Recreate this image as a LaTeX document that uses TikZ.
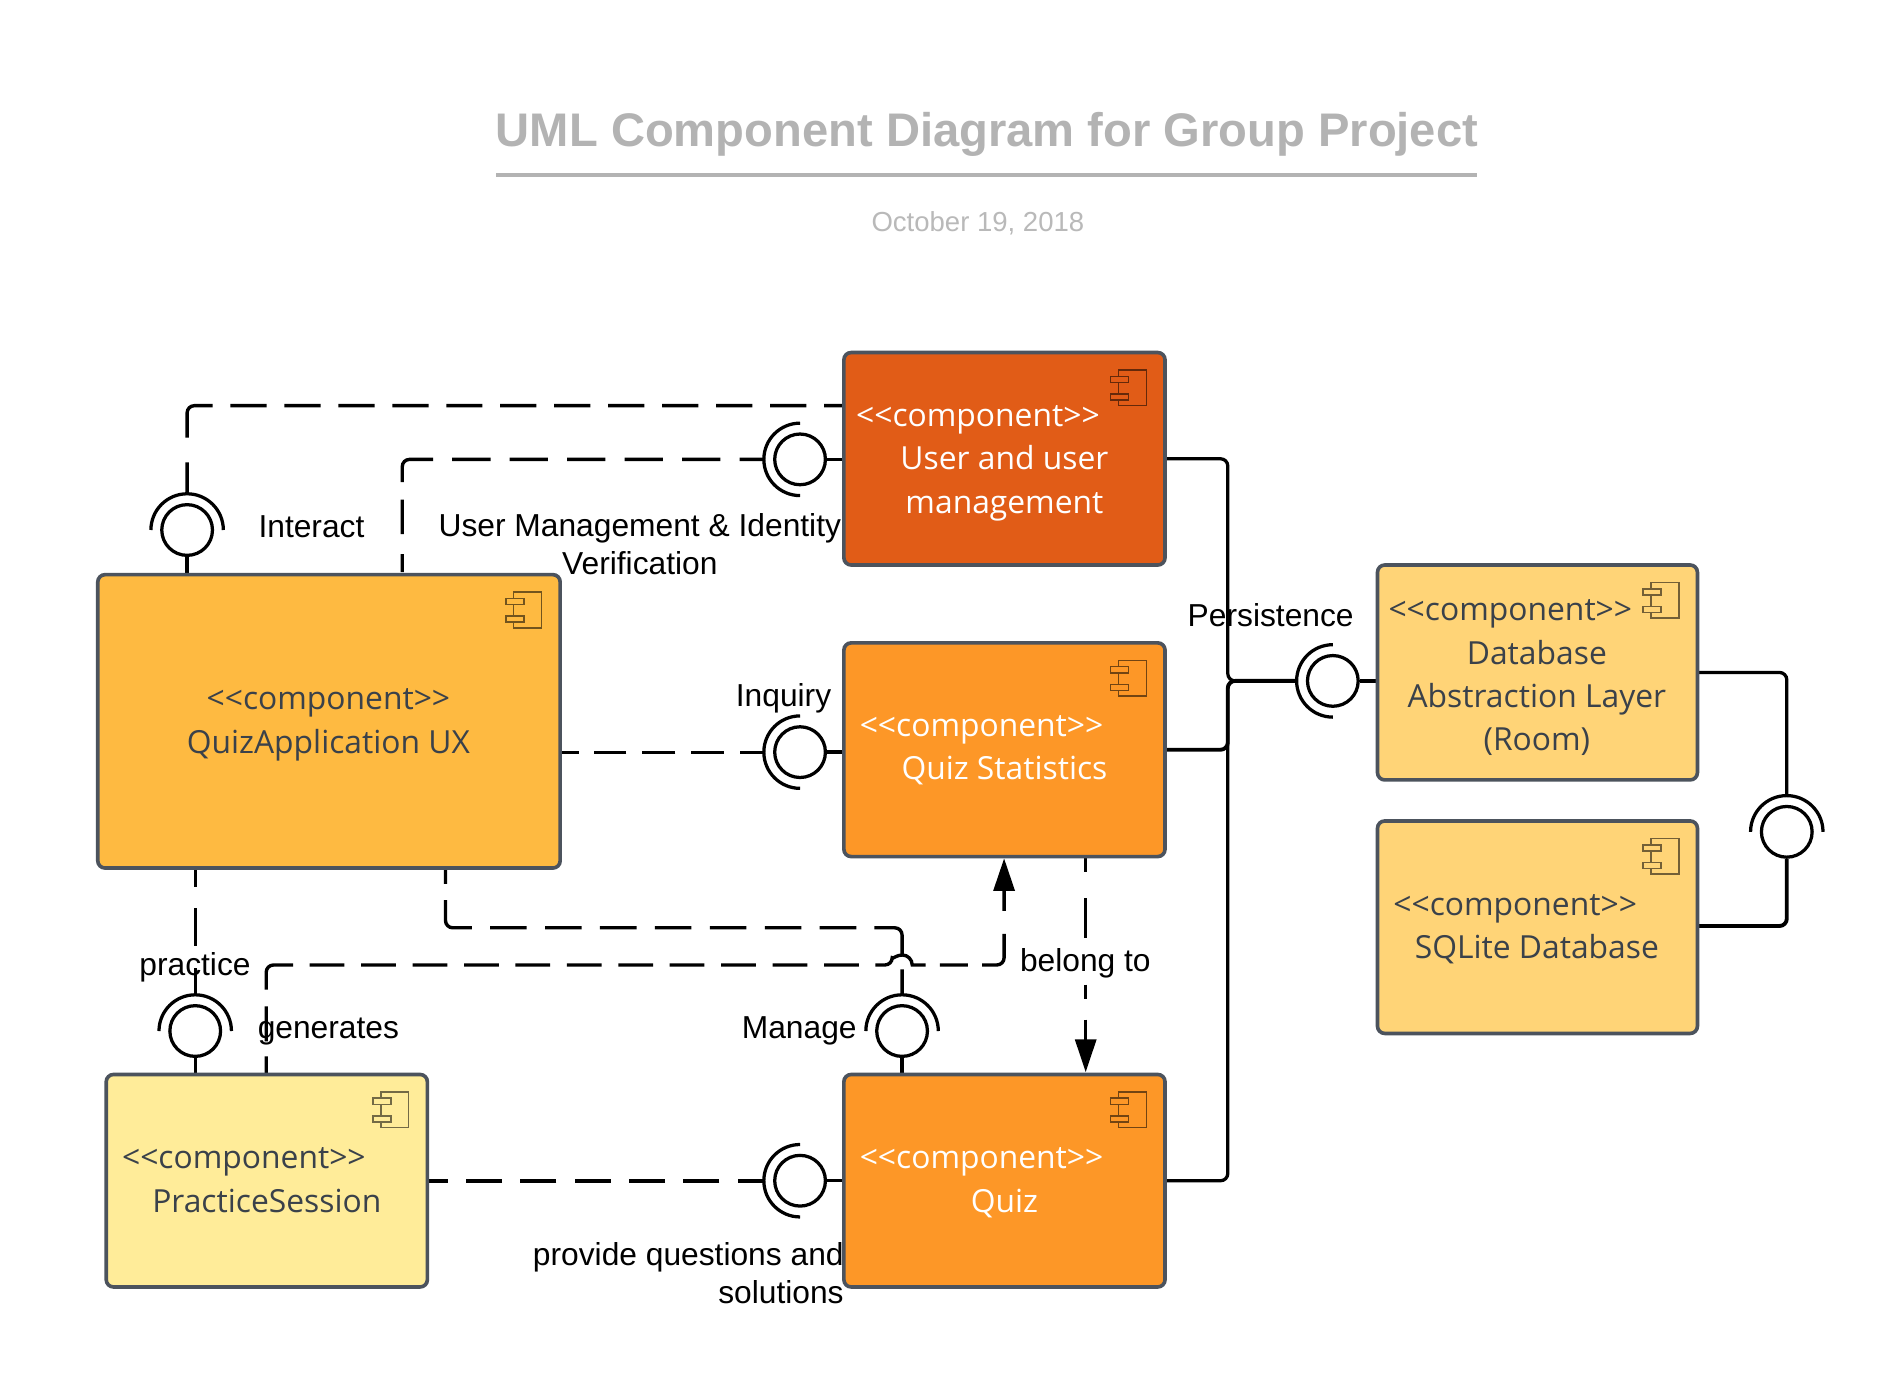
\documentclass[tikz,border=0pt]{standalone}
\usepackage{fontspec}
\setmainfont{Liberation Sans}
\newfontfamily\ofont{Open Sans}
\usetikzlibrary{arrows.meta,calc}
\definecolor{cuser}{HTML}{E15C17}
\definecolor{cstat}{HTML}{FD9727}
\definecolor{cux}{HTML}{FEBA41}
\definecolor{cprac}{HTML}{FFEC99}
\definecolor{cdb}{HTML}{FFD477}
\definecolor{cedge}{HTML}{4C535D}
\definecolor{ctxt}{HTML}{3A414A}
\definecolor{ctitle}{HTML}{B3B3B3}
\tikzset{
  comp/.style={draw=cedge,line width=3pt,rounded corners=6pt,inner sep=0pt,fill=#1},
  sol/.style={line width=2.7pt,rounded corners=6pt,black},
  dsh/.style={line width=2.8pt,rounded corners=6pt,black},
  ifc/.style={draw=black,line width=2.7pt,circle,minimum size=42pt,inner sep=0pt,fill=white},
  ifarc/.style={black,line width=2.7pt},
  lbl/.style={anchor=base,inner sep=0pt,font=\fontsize{26.3}{30}\selectfont,text=black},
  ctx/.style={anchor=base,inner sep=0pt,font=\ofont\fontsize{26.35}{30}\selectfont},
  tip/.style={-{Triangle[length=27pt,width=17.4pt]}},
}
\newcommand{\compbox}[6]{%
  \node[comp=#6,minimum width=#4pt,minimum height=#5pt] (#1) at (#2,#3) {};
  \coordinate (#1-i) at ($(#1.north east)+(-17,-16)$);
  \draw[draw=#6!45!black,line width=1.3pt] ($(#1-i)+(-23,0)$) rectangle ($(#1-i)+(0,-29.5)$);
  \draw[draw=#6!45!black,fill=#6,line width=1.3pt] ($(#1-i)+(-29.5,-5.2)$) rectangle ($(#1-i)+(-14.6,-10.3)$);
  \draw[draw=#6!45!black,fill=#6,line width=1.3pt] ($(#1-i)+(-29.5,-19.8)$) rectangle ($(#1-i)+(-14.6,-24.8)$);
}
\newcommand{\iface}[4]{%
  \node[ifc] (#1) at (#2,#3) {};
  \coordinate (#1-a) at ($(#1)+(#4:30)$);
  \draw[ifarc] (#1) ++(#4+90:30) arc[start angle=#4+90,delta angle=-180,radius=30];
}
\begin{document}
\begin{tikzpicture}[x=1pt,y=1pt]
\useasboundingbox (0,0) rectangle (1568,-1149);
\fill[white] (0,0) rectangle (1568,-1149);
% title
\node[anchor=base,inner sep=0pt,text=ctitle,font=\bfseries\fontsize{39.05}{44}\selectfont] (title) at (817.5,-121) {UML Component Diagram for Group Project};
\coordinate (tl) at (411,-145);
\coordinate (tr) at (1223,-145);
\draw[ctitle,line width=3pt] (tl) -- (tr);
\node[anchor=base,inner sep=0pt,text=ctitle!92,font=\fontsize{22.8}{26}\selectfont] (date) at (810,-192) {October 19, 2018};
% interfaces
\iface{ifint}{155}{-439}{90}
\iface{ifuser}{662.7}{-380.5}{180}
\iface{ifinq}{662.7}{-623}{180}
\iface{ifquiz}{662.7}{-978}{180}
\iface{ifper}{1104}{-564}{180}
\iface{ifdb}{1480}{-689}{90}
\iface{ifprac}{161.7}{-854}{90}
\iface{ifman}{747.2}{-854}{90}
% junction points
\coordinate (utop) at (699,-336);
\coordinate (uxa) at (333.2,-476);
\coordinate (uxb) at (369,-719);
\coordinate (uxc) at (161.7,-719);
\coordinate (prg) at (220.5,-890);
\coordinate (stb) at (831.7,-711);
\coordinate (stc) at (899.3,-709);
\coordinate (qtb) at (899.3,-888);
\coordinate (h1) at (739,-799.3);
\coordinate (h3) at (831.7,-799.3);
\coordinate (j) at (1017,-564);
% dashed connectors
\draw[dsh,dash pattern=on 26pt off 20.5pt on 45pt off 14.7pt on 30pt off 14.7pt on 30pt off 14.7pt on 30pt off 14.7pt on 30pt off 14.7pt on 30pt off 14.7pt on 30pt off 14.7pt on 30pt off 14.7pt on 30pt off 14.7pt on 30pt off 14.7pt on 30pt off 14.7pt on 30pt off 14.7pt on 20pt off 10pt] (ifint-a) |- (utop);
\draw[dsh,dash pattern=on 20pt off 16pt on 31.7pt off 15.9pt on 31.7pt off 15.9pt on 31.7pt off 15.9pt on 31.7pt off 15.9pt on 31.7pt off 15.9pt on 41.7pt off 14.6pt on 28.5pt off 16.5pt on 15pt off 5pt] (ifuser-a) -| (uxa);
\draw[dsh,line width=2.3pt,dash pattern=on 20pt off 13.2pt on 26.8pt off 13.3pt on 27.6pt off 12.9pt on 26.6pt off 13pt on 20pt off 5pt] (ifinq-a) -- (ifinq-a -| 465,0);
\draw[dsh,line width=3.3pt,dash pattern=on 21.6pt off 15.2pt on 29.9pt off 15.1pt on 29.9pt off 15.1pt on 29.9pt off 15.1pt on 29.9pt off 15.1pt on 29.9pt off 15.1pt on 16pt off 5pt] (ifquiz-a) -- (ifquiz-a -| 354,0);
\draw[dsh,line width=2.3pt,dash pattern=on 22pt off 18.6pt on 31.4pt off 17.4pt on 17pt off 5pt] (ifprac-a) -- (uxc);
\draw[dsh,dash pattern=on 21pt off 12.4pt on 42.4pt off 15pt on 30.3pt off 15.2pt on 30.3pt off 15.2pt on 30.3pt off 15.2pt on 30.3pt off 15.2pt on 30.3pt off 15.2pt on 30.3pt off 15.2pt on 30.3pt off 15.2pt on 42pt off 13.5pt on 20pt off 5pt] (ifman-a) |- (369,-768.5) -- (uxb);
\draw[dsh,tip,dash pattern=on 15pt off 12.5pt on 29pt off 13.8pt on 40pt off 13.8pt on 28.8pt off 13.8pt on 28.8pt off 13.8pt on 28.8pt off 13.8pt on 28.8pt off 13.8pt on 28.8pt off 13.8pt on 28.8pt off 13.8pt on 28.8pt off 13.8pt on 28.8pt off 13.8pt on 28.8pt off 13.8pt on 28.8pt off 13.8pt on 28.8pt off 13.8pt on 50pt off 11.8pt on 23.2pt off 11.9pt on 41.3pt off 19pt on 60pt off 5pt] (prg) |- (h1) [sharp corners] arc[start angle=180,end angle=0,radius=8.3] [rounded corners=6pt] -- (h3) -- (stb);
\draw[dsh,tip,line width=2.4pt,dash pattern=on 13pt off 22pt on 33pt off 38.5pt on 12pt off 17pt on 50pt off 5pt] (stc) -- (qtb);
% solid connectors
\draw[sol] (ifint) -- (ifint |- 0,-476);
\draw[sol] (ifuser.east) -- (699,-380.5);
\draw[sol,line width=3.2pt] (ifinq.east) -- (699,-623);
\draw[sol] (ifquiz.east) -- (699,-978);
\draw[sol] (ifper.east) -- (1141,-564);
\draw[sol] (ifprac.south) -- (161.7,-890);
\draw[sol] (ifman.south) -- (747.2,-890);
\draw[sol] (965,-380) -| (j) -- (ifper-a);
\draw[sol,line width=3.2pt] (965,-621) -| (j) -- (ifper-a);
\draw[sol] (965,-978) -| (j) -- (ifper-a);
\draw[sol] (1406,-557) -| (ifdb-a);
\draw[sol,line width=3.2pt] (1406,-767) -| (ifdb.south);
% components
\compbox{user}{832}{-380}{266}{176}{cuser}
\compbox{stats}{832}{-621}{266}{177}{cstat}
\compbox{quiz}{832}{-978}{266}{176}{cstat}
\compbox{ux}{272.5}{-597.5}{383}{243}{cux}
\compbox{prac}{221}{-978}{266}{176}{cprac}
\compbox{db}{1273.5}{-557}{265}{178}{cdb}
\compbox{sql}{1273.5}{-768}{265}{176}{cdb}
% component text
\node[ctx,text=white] (t1a) at (810,-353) {<<component>>};
\node[ctx,text=white] (t1b) at (832,-389) {User and user};
\node[ctx,text=white] (t1c) at (832,-425) {management};
\node[ctx,text=white] (t2a) at (813,-610) {<<component>>};
\node[ctx,text=white] (t2b) at (832,-646) {Quiz Statistics};
\node[ctx,text=white] (t3a) at (813,-968) {<<component>>};
\node[ctx,text=white] (t3b) at (832,-1004) {Quiz};
\node[ctx,text=ctxt] (t4a) at (272,-588) {<<component>>};
\node[ctx,text=ctxt] (t4b) at (272,-624) {QuizApplication UX};
\node[ctx,text=ctxt] (t5a) at (202,-968) {<<component>>};
\node[ctx,text=ctxt] (t5b) at (221,-1004) {PracticeSession};
\node[ctx,text=ctxt] (t6a) at (1251,-514) {<<component>>};
\node[ctx,text=ctxt] (t6b) at (1273,-550) {Database};
\node[ctx,text=ctxt] (t6c) at (1273,-586) {Abstraction Layer};
\node[ctx,text=ctxt] (t6d) at (1273,-622) {(Room)};
\node[ctx,text=ctxt] (t7a) at (1255,-758) {<<component>>};
\node[ctx,text=ctxt] (t7b) at (1273,-794) {SQLite Database};
% labels
\node[lbl] (l1) at (258,-445) {Interact};
\node[lbl] (l2) at (530,-444) {User Management \& Identity};
\node[lbl] (l3) at (530,-476) {Verification};
\node[lbl] (l4) at (649,-585) {Inquiry};
\node[lbl] (l5) at (1052.5,-519) {Persistence};
\node[lbl] (l6) at (161.5,-808) {practice};
\node[lbl] (l7) at (272,-860) {generates};
\node[lbl] (l8) at (662,-860) {Manage};
\node[lbl] (l9) at (899,-805) {belong to};
\node[lbl,anchor=base east] (l10) at (699,-1048) {provide questions and};
\node[lbl,anchor=base east] (l11) at (699,-1080) {solutions};
\end{tikzpicture}
\end{document}
